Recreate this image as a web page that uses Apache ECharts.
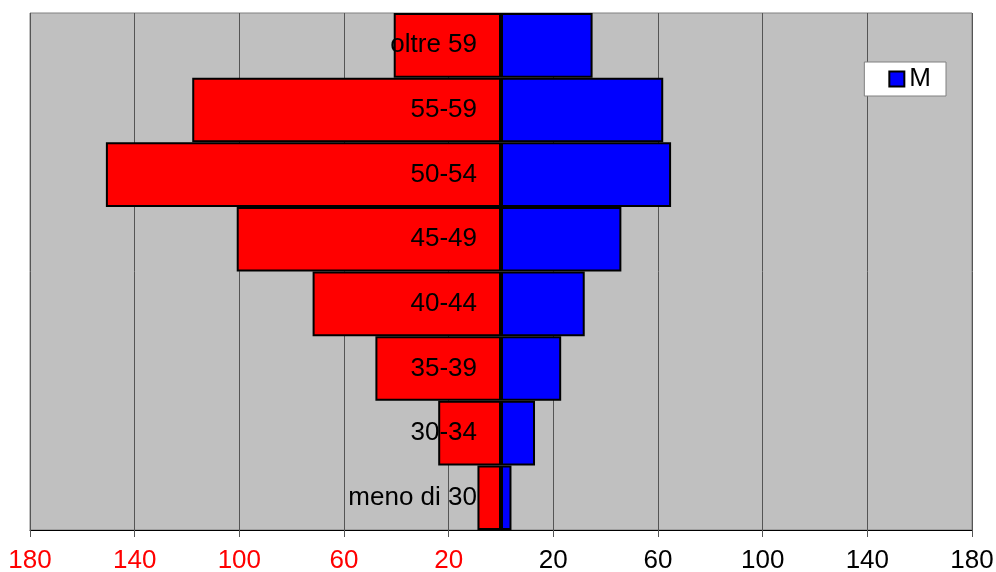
<!DOCTYPE html>
<html>
<head>
<meta charset="utf-8">
<script src="https://cdn.jsdelivr.net/npm/echarts@6/dist/echarts.min.js"></script>
<style>
html,body{margin:0;padding:0;background:#fff;}
#chart{width:996px;height:572px;}
</style>
</head>
<body>
<div id="chart"></div>
<script>
const categories = ['meno di 30', '30-34', '35-39', '40-44', '45-49', '50-54', '55-59', 'oltre 59'];
const femaleValues = [9, 24, 48, 72, 101, 151, 118, 41];
const maleValues = [4, 13, 23, 32, 46, 65, 62, 35];
const tickValues = [-180, -140, -100, -60, -20, 20, 60, 100, 140, 180];

const chart = echarts.init(document.getElementById('chart'));
chart.setOption({
  animation: false,
  textStyle: { fontFamily: 'Liberation Sans, Arial, sans-serif' },
  grid: {
    left: 30, right: 24, top: 13, bottom: 42,
    containLabel: false, outerBoundsMode: 'none',
    show: true, backgroundColor: '#C0C0C0', borderColor: '#808080', borderWidth: 1
  },
  legend: {
    data: ['M'],
    right: 50, top: 62,
    backgroundColor: '#ffffff', borderColor: '#808080', borderWidth: 1,
    padding: [4, 15, 4, 24],
    icon: 'rect', itemWidth: 15, itemHeight: 15, itemGap: 4,
    textStyle: { fontSize: 26, color: '#000', fontFamily: 'Liberation Sans, Arial, sans-serif' }
  },
  xAxis: {
    type: 'value', min: -180, max: 180,
    axisLine: { show: true, onZero: false, lineStyle: { color: '#000', width: 1 } },
    axisTick: { show: true, length: 7, customValues: tickValues, lineStyle: { color: '#555' } },
    axisLabel: {
      customValues: tickValues,
      fontSize: 26, margin: 18,
      formatter: v => String(Math.abs(v)),
      color: v => (Number(v) < 0 ? '#FF0000' : '#000000')
    },
    splitLine: { show: true, lineStyle: { color: '#555555', width: 1 } }
  },
  yAxis: {
    type: 'category', data: categories,
    axisLine: { show: false },
    axisTick: { show: false },
    splitLine: { show: false },
    axisLabel: { show: false }
  },
  series: [
    {
      name: 'F', type: 'bar', stack: 'total', barCategoryGap: '0%',
      data: femaleValues.map(v => -v),
      itemStyle: { color: '#FF0000', borderColor: '#000', borderWidth: 2 },
      label: {
        show: true, position: 'insideRight', distance: 24,
        formatter: p => p.name,
        fontSize: 26, color: '#000',
        fontFamily: 'Liberation Sans, Arial, sans-serif'
      },
      z: 3
    },
    {
      name: 'M', type: 'bar', stack: 'total', barCategoryGap: '0%',
      data: maleValues,
      itemStyle: { color: '#0000FF', borderColor: '#000', borderWidth: 2 }
    }
  ]
});
</script>
</body>
</html>
